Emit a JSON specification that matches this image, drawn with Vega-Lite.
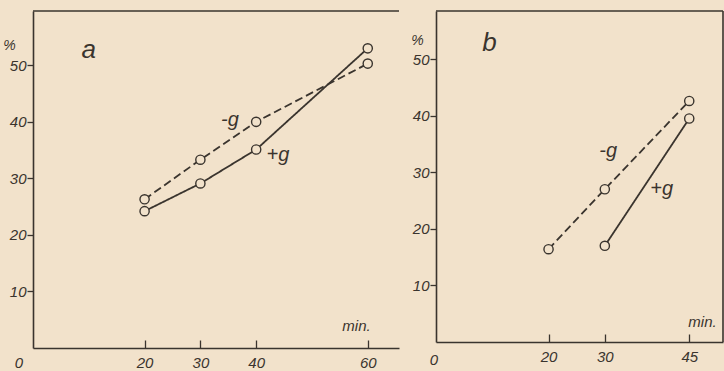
{
  "$schema": "https://vega.github.io/schema/vega-lite/v6.json",
  "background": "#f2e2cb",
  "padding": {"left": 2, "top": 10, "right": 0, "bottom": 0},
  "spacing": 10,
  "datasets": {
    "a": [
      {"series": "-g", "t": 20, "pct": 26.3},
      {"series": "-g", "t": 30, "pct": 33.3},
      {"series": "-g", "t": 40, "pct": 40.0},
      {"series": "-g", "t": 60, "pct": 50.3},
      {"series": "+g", "t": 20, "pct": 24.2},
      {"series": "+g", "t": 30, "pct": 29.1},
      {"series": "+g", "t": 40, "pct": 35.1},
      {"series": "+g", "t": 60, "pct": 53.0}
    ],
    "b": [
      {"series": "-g", "t": 20, "pct": 16.4},
      {"series": "-g", "t": 30, "pct": 27.0},
      {"series": "-g", "t": 45, "pct": 42.6},
      {"series": "+g", "t": 30, "pct": 17.0},
      {"series": "+g", "t": 45, "pct": 39.5}
    ],
    "alab": [
      {"label": "-g", "t": 35.3, "pct": 40.3},
      {"label": "+g", "t": 43.9, "pct": 34.2}
    ],
    "blab": [
      {"label": "-g", "t": 30.6, "pct": 33.7},
      {"label": "+g", "t": 40.1, "pct": 27.0}
    ],
    "one": [{"k": 1}]
  },
  "config": {
    "view": {"stroke": null},
    "axis": {
      "grid": false,
      "domainColor": "#3a342e",
      "domainWidth": 1.6,
      "tickColor": "#3a342e",
      "tickWidth": 1.3
    },
    "text": {"font": "Liberation Sans", "fontStyle": "italic", "color": "#3a342e"}
  },
  "hconcat": [
    {
      "width": 366,
      "height": 337,
      "layer": [
        {
          "data": {"name": "a"},
          "mark": {"type": "line", "color": "#3a342e", "strokeWidth": 1.8},
          "encoding": {
            "x": {"field": "t", "type": "quantitative", "scale": {"domain": [0, 65.6], "nice": false},
              "axis": {"values": [20, 30, 40, 60], "tickSize": -8, "labelPadding": 15, "labelBaseline": "top",
                "labelFont": "Liberation Sans", "labelFontStyle": "italic", "labelFontSize": 15, "labelColor": "#3a342e",
                "title": "min.", "titleFont": "Liberation Sans", "titleFontStyle": "italic", "titleFontWeight": "normal", "titleFontSize": 15, "titleColor": "#3a342e",
                "titleX": 323, "titleY": -23, "titleAlign": "center", "titleBaseline": "middle"}},
            "y": {"field": "pct", "type": "quantitative", "scale": {"domain": [0, 59.6], "nice": false},
              "axis": {"values": [10, 20, 30, 40, 50], "tickSize": 6, "labelPadding": 1,
                "labelFont": "Liberation Sans", "labelFontStyle": "italic", "labelFontSize": 15, "labelColor": "#3a342e",
                "title": "%", "titleFont": "Liberation Sans", "titleFontStyle": "italic", "titleFontWeight": "normal", "titleFontSize": 14, "titleColor": "#3a342e",
                "titleAngle": 0, "titleX": -24, "titleY": 34, "titleAlign": "center", "titleBaseline": "middle"}},
            "strokeDash": {"field": "series", "type": "nominal", "scale": {"domain": ["-g", "+g"], "range": [[8, 4], [1, 0]]}, "legend": null}
          }
        },
        {
          "data": {"name": "a"},
          "mark": {"type": "point", "shape": "circle", "filled": true, "fill": "#f2e2cb", "stroke": "#3a342e", "strokeWidth": 1.4, "size": 85, "opacity": 1},
          "encoding": {
            "x": {"field": "t", "type": "quantitative"},
            "y": {"field": "pct", "type": "quantitative"}
          }
        },
        {
          "data": {"name": "alab"},
          "mark": {"type": "text", "fontSize": 20, "align": "center", "baseline": "middle"},
          "encoding": {
            "x": {"field": "t", "type": "quantitative"},
            "y": {"field": "pct", "type": "quantitative"},
            "text": {"field": "label"}
          }
        },
        {
          "data": {"name": "one"},
          "mark": {"type": "text", "text": "a", "fontSize": 26, "align": "center", "baseline": "middle"},
          "encoding": {"x": {"datum": 10.0}, "y": {"datum": 52.7}}
        },
        {
          "data": {"name": "one"},
          "mark": {"type": "text", "text": "0", "fontSize": 15, "align": "center", "baseline": "middle", "dx": -14, "dy": 15},
          "encoding": {"x": {"datum": 0}, "y": {"datum": 0}}
        },
        {
          "data": {"name": "one"},
          "mark": {"type": "rule", "color": "#3a342e", "strokeWidth": 1.6},
          "encoding": {"y": {"datum": 59.6}}
        }
      ]
    },
    {
      "width": 287,
      "height": 331,
      "layer": [
        {
          "data": {"name": "b"},
          "mark": {"type": "line", "color": "#3a342e", "strokeWidth": 1.8},
          "encoding": {
            "x": {"field": "t", "type": "quantitative", "scale": {"domain": [0, 51], "nice": false},
              "axis": {"values": [20, 30, 45], "tickSize": -8, "labelPadding": 15, "labelBaseline": "top",
                "labelFont": "Liberation Sans", "labelFontStyle": "italic", "labelFontSize": 15, "labelColor": "#3a342e",
                "title": "min.", "titleFont": "Liberation Sans", "titleFontStyle": "italic", "titleFontWeight": "normal", "titleFontSize": 15, "titleColor": "#3a342e",
                "titleX": 266, "titleY": -21, "titleAlign": "center", "titleBaseline": "middle"}},
            "y": {"field": "pct", "type": "quantitative", "scale": {"domain": [0, 58.5], "nice": false},
              "axis": {"values": [10, 20, 30, 40, 50], "tickSize": 6, "labelPadding": 1,
                "labelFont": "Liberation Sans", "labelFontStyle": "italic", "labelFontSize": 15, "labelColor": "#3a342e",
                "title": "%", "titleFont": "Liberation Sans", "titleFontStyle": "italic", "titleFontWeight": "normal", "titleFontSize": 14, "titleColor": "#3a342e",
                "titleAngle": 0, "titleX": -19, "titleY": 29, "titleAlign": "center", "titleBaseline": "middle"}},
            "strokeDash": {"field": "series", "type": "nominal", "scale": {"domain": ["-g", "+g"], "range": [[8, 4], [1, 0]]}, "legend": null}
          }
        },
        {
          "data": {"name": "b"},
          "mark": {"type": "point", "shape": "circle", "filled": true, "fill": "#f2e2cb", "stroke": "#3a342e", "strokeWidth": 1.4, "size": 85, "opacity": 1},
          "encoding": {
            "x": {"field": "t", "type": "quantitative"},
            "y": {"field": "pct", "type": "quantitative"}
          }
        },
        {
          "data": {"name": "blab"},
          "mark": {"type": "text", "fontSize": 20, "align": "center", "baseline": "middle"},
          "encoding": {
            "x": {"field": "t", "type": "quantitative"},
            "y": {"field": "pct", "type": "quantitative"},
            "text": {"field": "label"}
          }
        },
        {
          "data": {"name": "one"},
          "mark": {"type": "text", "text": "b", "fontSize": 26, "align": "center", "baseline": "middle"},
          "encoding": {"x": {"datum": 9.5}, "y": {"datum": 52.8}}
        },
        {
          "data": {"name": "one"},
          "mark": {"type": "text", "text": "0", "fontSize": 15, "align": "center", "baseline": "middle", "dx": -2, "dy": 18},
          "encoding": {"x": {"datum": 0}, "y": {"datum": 0}}
        },
        {
          "data": {"name": "one"},
          "mark": {"type": "rule", "color": "#3a342e", "strokeWidth": 1.6},
          "encoding": {"y": {"datum": 58.5}}
        },
        {
          "data": {"name": "one"},
          "mark": {"type": "rule", "color": "#3a342e", "strokeWidth": 1.6},
          "encoding": {"x": {"datum": 51}}
        }
      ]
    }
  ]
}
